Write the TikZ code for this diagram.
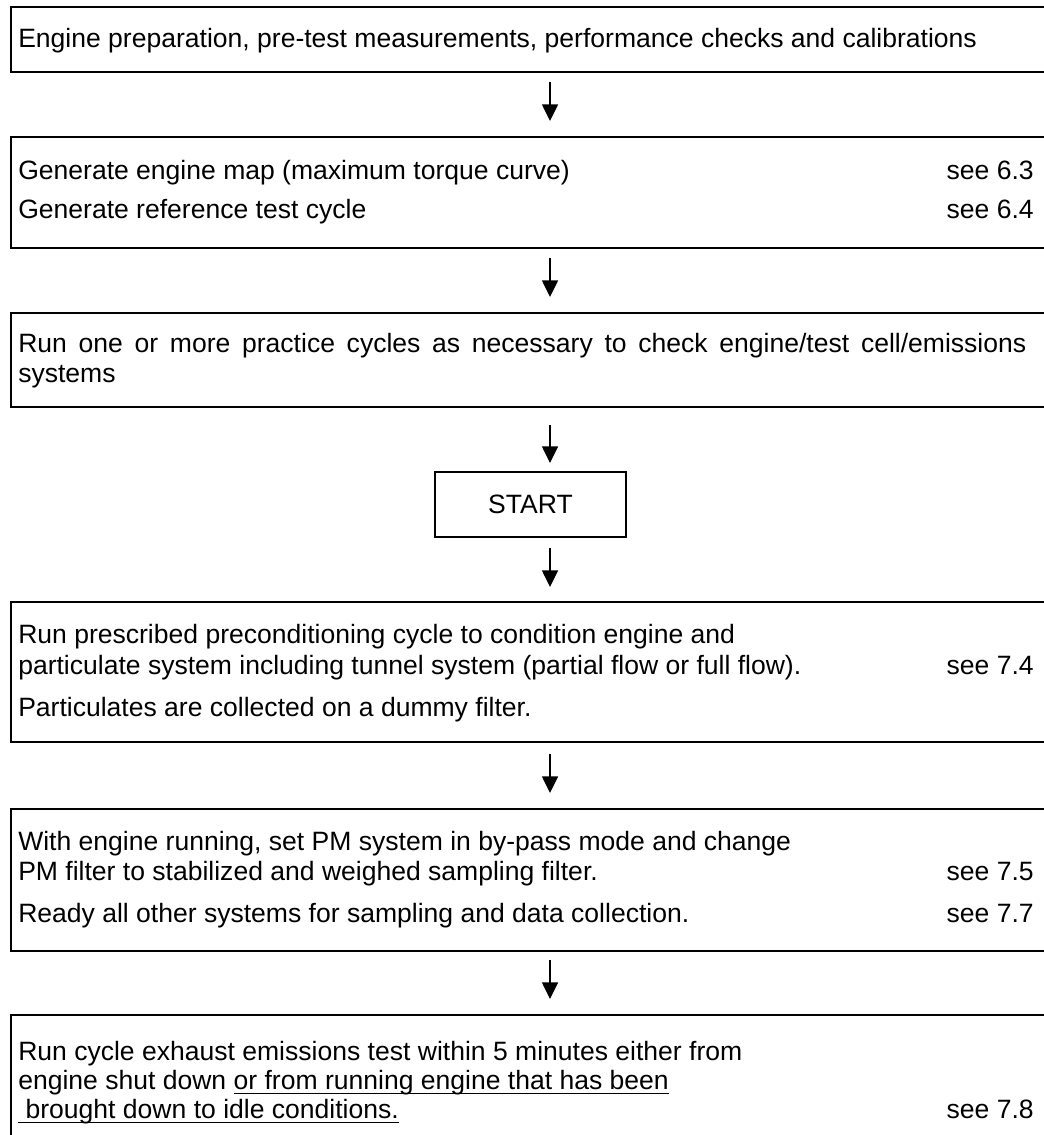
\documentclass[tikz,border=0pt]{standalone}
\usepackage{fontspec}
\setmainfont{Liberation Sans}
\usetikzlibrary{arrows.meta}
\newcommand\myul[1]{\setbox0\hbox{#1}\rlap{\rule[-3.9pt]{\wd0}{1.1pt}}\box0}
\tikzset{
  box/.style={draw=black, line width=1.5pt, rectangle, inner sep=0pt, anchor=north west},
  startbox/.style={draw=black, line width=1.5pt, rectangle, inner sep=0pt,
    minimum width=143.25pt, minimum height=48.75pt, font=\fontsize{19.9pt}{24pt}\selectfont},
  txt/.style={anchor=base west, inner sep=0pt, font=\fontsize{19.9pt}{24pt}\selectfont},
  ref/.style={anchor=base east, inner sep=0pt, font=\fontsize{19.9pt}{24pt}\selectfont},
  arr/.style={line width=1.1pt, -{Triangle[length=12.5pt, width=12pt]}}
}
\begin{document}
\begin{tikzpicture}[x=0.75pt, y=-0.75pt]
\useasboundingbox (0,0) rectangle (1044,1135);
\clip (0,0) rectangle (1044,1135);
% boxes
\node[box, minimum width=787.5pt, minimum height=48.75pt] (b1) at (10,6) {};
\node[box, minimum width=787.5pt, minimum height=83.25pt] (b2) at (10,136) {};
\node[box, minimum width=787.5pt, minimum height=70.5pt] (b3) at (10,312) {};
\node[startbox] (b4) at (530.5,504.5) {START};
\node[box, minimum width=787.5pt, minimum height=105pt] (b5) at (10,601) {};
\node[box, minimum width=787.5pt, minimum height=106.5pt] (b6) at (10,808) {};
\node[box, minimum width=787.5pt, minimum height=120pt] (b7) at (10,1014) {};
% texts
\node[txt] (t1) at (18,47) {Engine preparation, pre-test measurements, performance checks and calibrations};
\node[txt] (t2a) at (18,179) {Generate engine map (maximum torque curve)};
\node[ref] (r2a) at (1034,179) {see 6.3};
\node[txt] (t2b) at (18,218) {Generate reference test cycle};
\node[ref] (r2b) at (1034,218) {see 6.4};
\node[txt] (t3a) at (18,352) {\makebox[756pt][s]{Run one or more practice cycles as necessary to check engine/test cell/emissions}};
\node[txt] (t3b) at (18,382) {systems};
\node[txt] (t5a) at (18,643) {Run prescribed preconditioning cycle to condition engine and};
\node[txt] (t5b) at (18,674) {particulate system including tunnel system (partial flow or full flow).};
\node[ref] (r5b) at (1034,674) {see 7.4};
\node[txt] (t5c) at (18,716) {Particulates are collected on a dummy filter.};
\node[txt] (t6a) at (18,850) {With engine running, set PM system in by-pass mode and change};
\node[txt] (t6b) at (18,880) {PM filter to stabilized and weighed sampling filter.};
\node[ref] (r6b) at (1034,880) {see 7.5};
\node[txt] (t6c) at (18,922) {Ready all other systems for sampling and data collection.};
\node[ref] (r6c) at (1034,922) {see 7.7};
\node[txt] (t7a) at (18,1060) {Run cycle exhaust emissions test within 5 minutes either from};
\node[txt] (t7b) at (18,1089) {engine shut down \myul{or from running engine that has been}};
\node[txt] (t7c) at (18,1118) {\myul{\ brought down to idle conditions.}};
\node[ref] (r7c) at (1034,1118) {see 7.8};
% arrow end points
\coordinate (a1s) at (550,82);  \coordinate (a1e) at (550,121);
\coordinate (a2s) at (550,258); \coordinate (a2e) at (550,297);
\coordinate (a3s) at (550,425); \coordinate (a3e) at (550,463);
\coordinate (a4s) at (550,548); \coordinate (a4e) at (550,587);
\coordinate (a5s) at (550,754); \coordinate (a5e) at (550,793);
\coordinate (a6s) at (550,960); \coordinate (a6e) at (550,999);
\draw[arr] (a1s) -- (a1e);
\draw[arr] (a2s) -- (a2e);
\draw[arr] (a3s) -- (a3e);
\draw[arr] (a4s) -- (a4e);
\draw[arr] (a5s) -- (a5e);
\draw[arr] (a6s) -- (a6e);
\end{tikzpicture}
\end{document}
